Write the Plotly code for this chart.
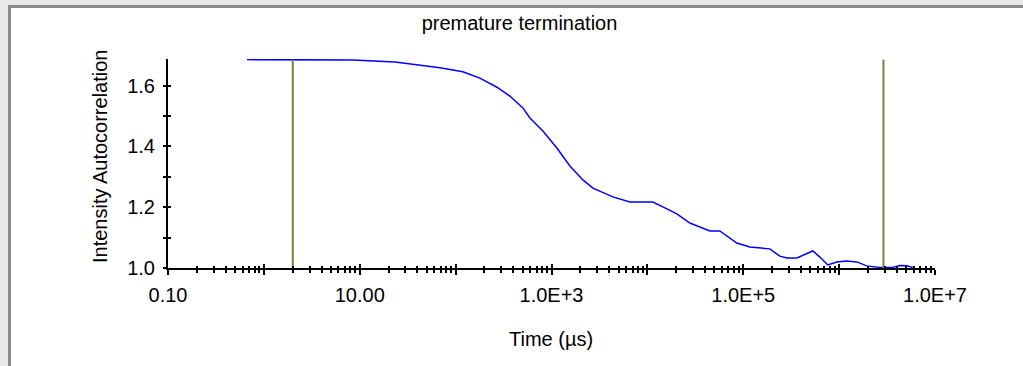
import plotly.graph_objects as go

# ---- data ----
time_us = [0.667, 2.4, 8.49, 23.3, 37.6, 68.6, 119, 179, 270, 368, 503, 596, 813, 1138,
           1556, 2125, 2705, 4365, 6577, 11400, 14500, 20300, 27700, 35300, 44900, 57000,
           85700, 117000, 189000, 241000, 285000, 362000, 461000, 532000, 630000, 762000,
           946000, 1.20e6, 1.53e6, 1.94e6, 2.65e6, 3.63e6, 4.29e6, 5.08e6, 5.87e6]
g2 = [1.686, 1.686, 1.685, 1.678, 1.670, 1.659, 1.646, 1.625, 1.595, 1.566, 1.527, 1.494,
      1.451, 1.395, 1.336, 1.290, 1.263, 1.234, 1.217, 1.217, 1.201, 1.178, 1.148, 1.135,
      1.122, 1.122, 1.082, 1.069, 1.063, 1.039, 1.033, 1.033, 1.049, 1.056, 1.036, 1.010,
      1.020, 1.023, 1.020, 1.007, 1.002, 1.002, 1.008, 1.007, 1.002]
cursor_times = [2.0, 2.9e6]
cursor_bottom = 1.0
cursor_top = 1.686

x_major = [0.1, 1, 10, 100, 1e3, 1e4, 1e5, 1e6, 1e7]
x_major_text = ["0.10", "", "10.00", "", "1.0E+3", "", "1.0E+5", "", "1.0E+7"]
y_ticks = [1.0, 1.1, 1.2, 1.3, 1.4, 1.5, 1.6]
y_tick_text = ["1.0", "", "1.2", "", "1.4", "", "1.6"]

title_text = "premature termination"
x_title = "Time (µs)"
y_title = "Intensity Autocorrelation"

x_minor = [m * d for d in x_major[:-1] for m in range(2, 10)]

# ---- layout geometry (pixels) ----
W, H = 1023, 366
L, R, T, B = 168, 88, 59, 98
PW, PH = W - L - R, H - T - B


def px(x):
    return (x - L) / PW


def py(y):
    return (H - B - y) / PH


FONT = "Liberation Sans, Arial, sans-serif"

fig = go.Figure()
fig.add_trace(go.Scatter(x=time_us, y=g2, mode="lines",
                         line=dict(color="#0000ff", width=1.5),
                         showlegend=False, hoverinfo="skip"))

cx, cy = [], []
for t in cursor_times:
    cx += [t, t, None]
    cy += [cursor_bottom, cursor_top, None]
fig.add_trace(go.Scatter(x=cx, y=cy, mode="lines", xaxis="x2", yaxis="y2",
                         line=dict(color="#6f8441", width=2),
                         showlegend=False, hoverinfo="skip"))

xrange = [-1, 7]
yrange = [1.0, 1.688]

common_x = dict(type="log", range=xrange, tickmode="array", tickvals=x_major,
                tickwidth=1.5, tickcolor="black", showgrid=False, zeroline=False)
common_y = dict(range=yrange, tickmode="array", tickvals=y_ticks,
                tickwidth=1.5, tickcolor="black", showgrid=False, zeroline=False)

fig.update_layout(
    width=W, height=H,
    margin=dict(l=L, r=R, t=T, b=B, pad=0),
    paper_bgcolor="white", plot_bgcolor="white",
    font=dict(family=FONT, size=20, color="black"),
    title=dict(text=title_text, x=519.5 / W, xanchor="center", xref="container",
               y=1 - 23 / H, yanchor="middle", yref="container",
               font=dict(family=FONT, size=20, color="black")),
    xaxis=dict(**common_x, ticktext=x_major_text, ticks="outside", ticklen=5,
               showline=True, linecolor="black", linewidth=2,
               minor=dict(tickmode="array", tickvals=x_minor, ticks="outside",
                          ticklen=3, tickwidth=1.5, tickcolor="black", showgrid=False),
               ticklabelstandoff=3, tickfont=dict(size=20)),
    xaxis2=dict(**common_x, overlaying="x", anchor="y2", side="bottom",
                ticks="inside", ticklen=4, showticklabels=False, showline=False,
                minor=dict(tickmode="array", tickvals=x_minor, ticks="inside",
                           ticklen=2, tickwidth=1.5, tickcolor="black", showgrid=False)),
    yaxis=dict(**common_y, ticktext=y_tick_text, ticks="outside", ticklen=3,
               showline=True, linecolor="black", linewidth=2,
               ticklabelstandoff=4, tickfont=dict(size=20)),
    yaxis2=dict(**common_y, overlaying="y", anchor="x2", side="left",
                ticks="inside", ticklen=3, showticklabels=False, showline=False),
    annotations=[
        dict(text=y_title, textangle=-90, xref="paper", yref="paper",
             x=px(100), y=py(157), xanchor="center", yanchor="middle",
             showarrow=False, font=dict(family=FONT, size=20, color="black")),
        dict(text=x_title, xref="paper", yref="paper",
             x=px(551), y=py(339), xanchor="center", yanchor="middle",
             showarrow=False, font=dict(family=FONT, size=20, color="black")),
    ],
    shapes=[
        dict(type="rect", xref="paper", yref="paper", x0=px(0), x1=px(W), y0=py(0), y1=py(5),
             fillcolor="#e8e8e8", line=dict(width=0), layer="above"),
        dict(type="rect", xref="paper", yref="paper", x0=px(0), x1=px(8), y0=py(0), y1=py(H),
             fillcolor="#e8e8e8", line=dict(width=0), layer="above"),
        dict(type="rect", xref="paper", yref="paper", x0=px(8), x1=px(W), y0=py(5), y1=py(8),
             fillcolor="#8a8a8a", line=dict(width=0), layer="above"),
        dict(type="rect", xref="paper", yref="paper", x0=px(8), x1=px(11), y0=py(5), y1=py(H),
             fillcolor="#8a8a8a", line=dict(width=0), layer="above"),
    ],
)

fig.write_html("out.html",
               config={"displayModeBar": False},
               post_script="document.body.style.margin='0';"
                           "document.body.style.overflow='hidden';")
